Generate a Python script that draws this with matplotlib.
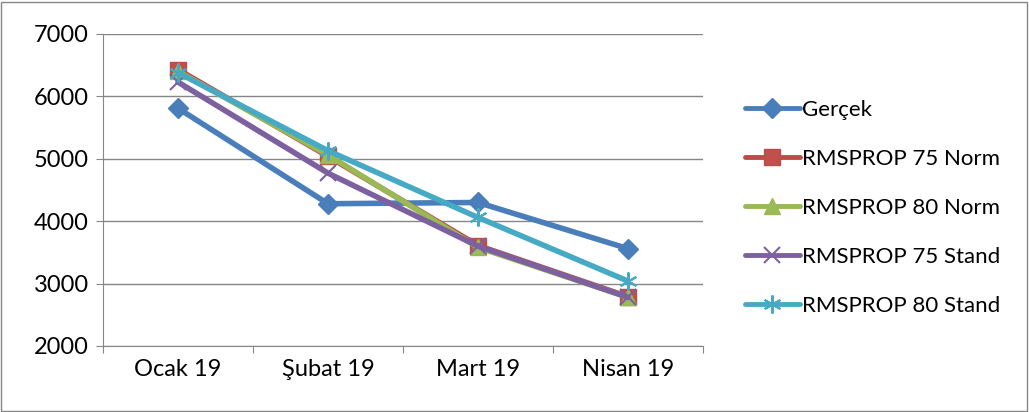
import matplotlib
matplotlib.use("Agg")
import matplotlib.pyplot as plt
from matplotlib.patches import Rectangle

categories = ["Ocak 19", "Şubat 19", "Mart 19", "Nisan 19"]
gercek = [5810, 4280, 4300, 3560]
rms75_norm = [6430, 5040, 3610, 2790]
rms80_norm = [6400, 5060, 3580, 2780]
rms75_stand = [6230, 4770, 3600, 2780]
rms80_stand = [6380, 5130, 4060, 3040]
series_names = ["Gerçek", "RMSPROP 75 Norm", "RMSPROP 80 Norm", "RMSPROP 75 Stand", "RMSPROP 80 Stand"]
yticks = [2000, 3000, 4000, 5000, 6000, 7000]

plt.rcParams['font.family'] = ['Lato', 'DejaVu Sans']
FS = 17
LFS = 16

fig = plt.figure(figsize=(10.29, 4.12), dpi=100)
ax = fig.add_axes([103/1029, 1-346/412, 600/1029, 312/412])

x = list(range(len(categories)))
styles = [
    dict(color="#4A7EBB", marker="D", ms=10, mec="#4A7EBB", mfc="#4A7EBB"),
    dict(color="#BE4B48", marker="s", ms=11, mec="#BE4B48", mfc="#C0504D"),
    dict(color="#98B954", marker="^", ms=11, mec="#98B954", mfc="#9BBB59"),
    dict(color="#7D60A0", marker="x", ms=11, mew=1.5, mec="#7D60A0"),
    dict(color="#46AAC5", marker=(6, 2, 0), ms=13, mew=1.5, mec="#46AAC5"),
]
data = [gercek, rms75_norm, rms80_norm, rms75_stand, rms80_stand]
for vals, name, st in zip(data, series_names, styles):
    ax.plot(x, vals, lw=4, label=name, solid_capstyle="round", **st)

ax.set_xlim(-0.5, len(categories) - 0.5)
ax.set_ylim(2000, 7000)
ax.set_yticks(yticks)
ax.set_yticklabels([str(v) for v in yticks], fontsize=FS)
ax.yaxis.grid(True, color="#868686", lw=1)
ax.set_axisbelow(True)
ax.set_xticks([i - 0.5 for i in range(len(categories) + 1)])
ax.set_xticklabels([])
ax.set_xticks(x, minor=True)
ax.set_xticklabels(categories, minor=True, fontsize=FS)
ax.tick_params(axis="x", which="minor", length=0, pad=9)
ax.tick_params(axis="x", which="major", length=5, color="#868686")
ax.tick_params(axis="y", length=5, color="#868686", pad=5)
for s in ["top", "right"]:
    ax.spines[s].set_visible(False)
for s in ["left", "bottom"]:
    ax.spines[s].set_color("#868686")

leg = fig.legend(loc="center left", bbox_to_anchor=(729/1029, 1-208/412), frameon=False,
                 fontsize=LFS, handlelength=2.5, labelspacing=1.3, handletextpad=0.1,
                 borderpad=0.2)
for ln in leg.get_lines():
    ln.set_linewidth(3.5)

fig.patches.append(Rectangle((1/1029, 1/412), 1-3/1029, 1-3/412, transform=fig.transFigure,
                             fill=False, edgecolor="#868686", lw=1))
fig.savefig("out.png", dpi=100)
